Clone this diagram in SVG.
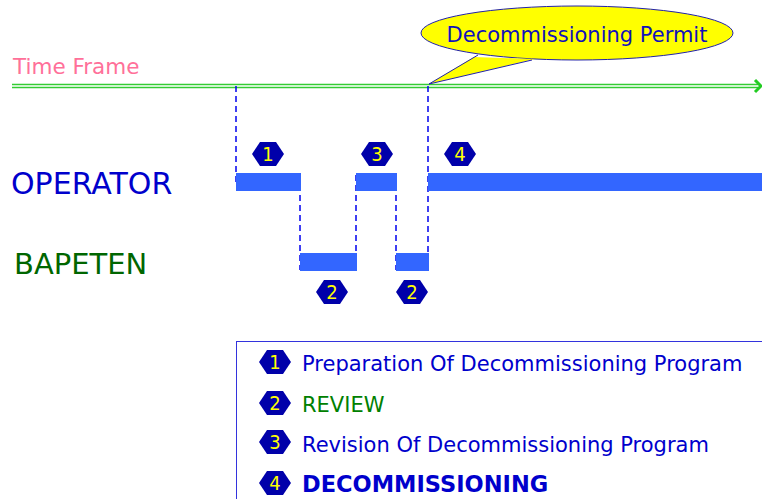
<svg xmlns="http://www.w3.org/2000/svg" width="762" height="499" viewBox="0 0 762 499">
<defs>
<style>
text{font-family:"DejaVu Sans",sans-serif}
.dash{stroke:#0000EE;stroke-width:1.5;stroke-dasharray:6,4;fill:none}
.bar{fill:#3366FF}
.hex{fill:#0000AA}
.num{fill:#FFFF00;font-family:"DejaVu Sans Condensed","DejaVu Sans",sans-serif;font-size:20px;text-anchor:middle}
.leg{font-size:21px}
</style>
<polygon id="hx" points="-16,0 -8,-12 8,-12 16,0 8,12 -8,12"/>
</defs>
<rect width="762" height="499" fill="#fff"/>
<g id="timeframe">
<text x="13" y="74" font-size="21.5" fill="#FF7099">Time Frame</text>
<line x1="12" y1="84.5" x2="760" y2="84.5" stroke="#33CC33" stroke-width="1.5"/>
<line x1="12" y1="87.5" x2="760" y2="87.5" stroke="#33CC33" stroke-width="1.5"/>
<line x1="12" y1="86" x2="760" y2="86" stroke="#CCF5CC" stroke-width="1.5"/>
<polyline points="755,80 761,86 755,92" fill="none" stroke="#22CC22" stroke-width="3"/>
</g>
<g id="permit">
<ellipse cx="577" cy="33" rx="156" ry="27" fill="#FFFF00" stroke="#2222AA" stroke-width="1"/>
<path d="M474,57 L429,84 L535,59 Z" fill="#FFFF00"/>
<path d="M478,55 L429,84 L532,60" fill="none" stroke="#2222AA" stroke-width="1"/>
<text x="577" y="42" font-size="21" fill="#1111BB" text-anchor="middle">Decommissioning Permit</text>
</g>
<g id="operator">
<text x="11" y="194" font-size="30" fill="#0000CC">OPERATOR</text>
</g>
<g id="bapeten">
<text x="14" y="274" font-size="29" fill="#006600">BAPETEN</text>
</g>
<g id="connectors">
<line class="dash" x1="236" y1="86" x2="236" y2="185"/>
<line class="dash" x1="300" y1="175" x2="300" y2="270"/>
<line class="dash" x1="356" y1="175" x2="356" y2="270"/>
<line class="dash" x1="396" y1="175" x2="396" y2="270"/>
<line class="dash" x1="428" y1="86" x2="428" y2="270"/>
</g>
<g id="bars">
<rect class="bar" x="236" y="173" width="65" height="18"/>
<rect class="bar" x="356" y="173" width="41" height="18"/>
<rect class="bar" x="428" y="173" width="334" height="18"/>
<rect class="bar" x="300" y="253" width="57" height="18"/>
<rect class="bar" x="396" y="253" width="33" height="18"/>
</g>
<g id="badges">
<use href="#hx" class="hex" x="268" y="154"/><text class="num" x="268" y="161">1</text>
<use href="#hx" class="hex" x="377" y="154"/><text class="num" x="377" y="161">3</text>
<use href="#hx" class="hex" x="460" y="154"/><text class="num" x="460" y="161">4</text>
<use href="#hx" class="hex" x="332" y="292"/><text class="num" x="332" y="299">2</text>
<use href="#hx" class="hex" x="412" y="292"/><text class="num" x="412" y="299">2</text>
</g>
<g id="legend">
<rect x="236.5" y="341.5" width="540" height="170" fill="none" stroke="#3333DD" stroke-width="1"/>
<use href="#hx" class="hex" x="275" y="362"/><text class="num" x="275" y="369">1</text>
<text class="leg" x="302" y="371" fill="#0000CC">Preparation Of Decommissioning Program</text>
<use href="#hx" class="hex" x="275" y="403"/><text class="num" x="275" y="410">2</text>
<text class="leg" x="302" y="412" fill="#008000">REVIEW</text>
<use href="#hx" class="hex" x="275" y="442"/><text class="num" x="275" y="449">3</text>
<text class="leg" x="302" y="452" fill="#0000CC">Revision Of Decommissioning Program</text>
<use href="#hx" class="hex" x="275" y="483"/><text class="num" x="275" y="490">4</text>
<text x="302" y="492" font-size="22.5" fill="#0000CC" font-weight="bold">DECOMMISSIONING</text>
</g>
</svg>
